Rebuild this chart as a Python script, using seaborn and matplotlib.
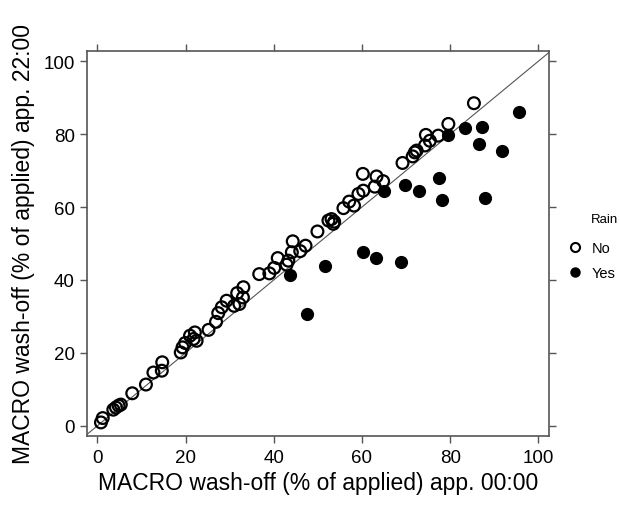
import pandas as pd
import matplotlib.pyplot as plt
import seaborn as sns
from matplotlib.lines import Line2D

# 读取的数值（从原图估计）
no_x = [0.8, 1.2, 3.6, 4.2, 4.8, 5.3, 7.9, 11.0, 12.7, 14.6, 14.7,
        18.9, 19.3, 19.9, 21.0, 22.1, 21.8, 22.5, 25.2, 26.9, 27.4, 28.2,
        29.3, 31.0, 32.2, 33.0, 31.7, 33.1, 36.7, 39.0, 40.1, 40.9, 42.9,
        43.3, 44.1, 44.3, 46.0, 47.2, 49.9, 52.4, 53.1, 53.7, 53.5, 55.8,
        57.1, 58.2, 59.2, 60.3, 60.2, 62.9, 63.3, 64.8, 69.2, 71.5, 72.0,
        72.4, 74.5, 74.3, 75.4, 77.3, 79.6, 85.4]
no_y = [0.9, 2.1, 4.4, 5.0, 5.5, 5.8, 8.9, 11.3, 14.6, 15.1, 17.4,
        20.1, 21.5, 22.7, 24.7, 25.6, 23.8, 23.3, 26.3, 28.5, 30.9, 32.5,
        34.3, 32.9, 33.4, 35.2, 36.4, 38.0, 41.6, 41.8, 43.3, 46.0, 44.2,
        45.3, 47.6, 50.6, 47.9, 49.4, 53.3, 56.3, 56.7, 56.0, 55.4, 59.7,
        61.5, 60.4, 63.6, 64.5, 69.1, 65.6, 68.4, 67.1, 72.1, 73.9, 75.0,
        75.5, 79.8, 76.9, 78.2, 79.6, 82.8, 88.5]
yes_x = [43.7, 47.6, 51.6, 60.3, 63.1, 68.9, 64.9, 69.8, 72.9, 77.4,
         78.2, 79.6, 83.4, 87.2, 86.5, 87.8, 91.8, 95.6]
yes_y = [41.4, 30.6, 43.9, 47.6, 46.1, 45.0, 64.5, 66.1, 64.5, 67.9,
         62.0, 79.9, 81.6, 82.1, 77.3, 62.6, 75.4, 86.0]
rain_labels = ['No', 'Yes']

df_no = pd.DataFrame({'x': no_x, 'y': no_y})
df_yes = pd.DataFrame({'x': yes_x, 'y': yes_y})

sns.set_style('white')
plt.rcParams['font.family'] = ['Liberation Sans', 'DejaVu Sans']

fig = plt.figure(figsize=(6.2, 5.06), dpi=100)
ax = fig.add_axes([0.1408, 0.1358, 0.886 - 0.1408, 0.8978 - 0.1358])

# 1:1 参考线
ax.axline((0, 0), (1, 1), color='#555555', lw=0.8, zorder=1)

sns.scatterplot(data=df_no, x='x', y='y', ax=ax, marker='o', s=72,
                facecolors='none', edgecolor='black', linewidth=1.6, zorder=3)
sns.scatterplot(data=df_yes, x='x', y='y', ax=ax, marker='o', s=72,
                color='black', edgecolor='black', linewidth=1.0, zorder=3)

ax.set_xlim(-2.3, 102.5)
ax.set_ylim(-2.9, 102.9)
ax.set_xticks(range(0, 101, 20))
ax.set_yticks(range(0, 101, 20))
ax.tick_params(axis='both', direction='out', length=5, width=1, color='#555555',
               labelsize=13.5, labelcolor='black', top=True, right=True,
               bottom=True, left=True, pad=4)
for sp in ax.spines.values():
    sp.set_color('#555555')
    sp.set_linewidth(1.2)

ax.set_xlabel('MACRO wash-off (% of applied) app. 00:00', fontsize=16.5,
              labelpad=4, color='black')
ax.set_ylabel('MACRO wash-off (% of applied) app. 22:00', fontsize=16.5,
              labelpad=6, color='black')

# 图例（标题与文字左对齐）
handles = [
    Line2D([], [], marker='o', ls='', markerfacecolor='none', markeredgecolor='black',
           markeredgewidth=1.5, markersize=6.5),
    Line2D([], [], marker='o', ls='', markerfacecolor='black', markeredgecolor='black',
           markersize=6.5),
]
fig.legend(handles, rain_labels, loc='center left',
           bbox_to_anchor=(0.918, 0.483), frameon=False, fontsize=10.5,
           handlelength=0.8, handletextpad=0.75, labelspacing=0.7,
           borderaxespad=0, borderpad=0, labelcolor='black')
fig.text(0.953, 0.565, 'Rain', fontsize=9.5, va='center', ha='left', color='black')

plt.savefig('out.png', dpi=100)
